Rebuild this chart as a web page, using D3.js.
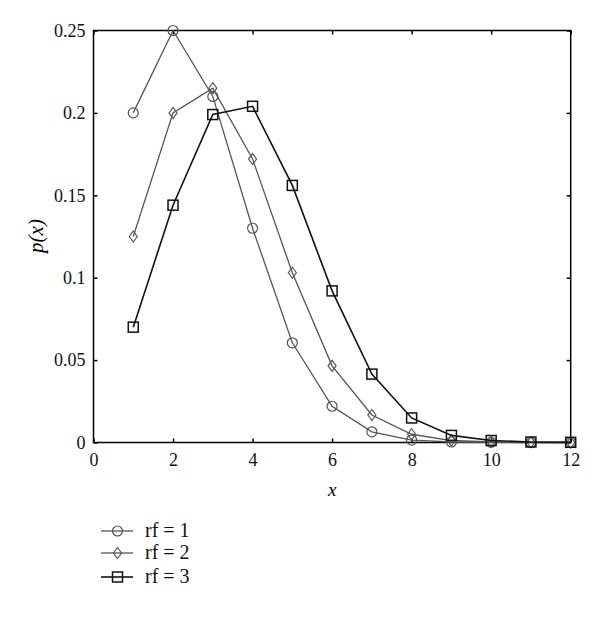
<!DOCTYPE html>
<html><head><meta charset="utf-8">
<script src="https://cdn.jsdelivr.net/npm/d3@7"></script>
<style>body{margin:0;background:#fff}</style>
</head><body>
<svg id="c" width="600" height="619"></svg>
<script>
const xs = [1,2,3,4,5,6,7,8,9,10,11,12];
const rf1 = [0.2,0.25,0.21,0.13,0.0605,0.022,0.0065,0.0015,0.0003,0.0001,0,0];
const rf2 = [0.125,0.2,0.215,0.172,0.103,0.0465,0.0167,0.005,0.0012,0.0003,0.0001,0];
const rf3 = [0.07,0.144,0.199,0.204,0.156,0.092,0.0415,0.0149,0.0043,0.0012,0.0003,0.0001];
const seriesNames = ["rf = 1","rf = 2","rf = 3"];
const xTicks = [0,2,4,6,8,10,12];
const yTicks = [0,0.05,0.1,0.15,0.2,0.25];
const yTickLabels = ["0","0.05","0.1","0.15","0.2","0.25"];

(function(){
const series = [
  {name: seriesNames[0], values: rf1, marker: "circle", color: "#555"},
  {name: seriesNames[1], values: rf2, marker: "diamond", color: "#555"},
  {name: seriesNames[2], values: rf3, marker: "square", color: "#111"}
];

const svg = d3.select("#c");
const font = "'Liberation Serif','Times New Roman',serif";
const L = 93.5, R = 570.7, T = 30.5, B = 442.5;
const x = d3.scaleLinear().domain([0,12]).range([L,R]);
const y = d3.scaleLinear().domain([0,0.25]).range([B,T]);

svg.append("rect").attr("x",L).attr("y",T).attr("width",R-L).attr("height",B-T)
  .attr("fill","none").attr("stroke","#000").attr("stroke-width",1.5);

const tl = 4;
const gB = svg.append("g").attr("transform",`translate(0,${B})`)
  .call(d3.axisBottom(x).tickValues(xTicks).tickSizeInner(-tl).tickSizeOuter(0).tickPadding(11));
const gT = svg.append("g").attr("transform",`translate(0,${T})`)
  .call(d3.axisTop(x).tickValues(xTicks).tickSizeInner(-tl).tickSizeOuter(0).tickFormat(""));
const gL = svg.append("g").attr("transform",`translate(${L},0)`)
  .call(d3.axisLeft(y).tickValues(yTicks).tickSizeInner(-tl).tickSizeOuter(0).tickPadding(8)
    .tickFormat((d,i)=>yTickLabels[i]));
const gR = svg.append("g").attr("transform",`translate(${R},0)`)
  .call(d3.axisRight(y).tickValues(yTicks).tickSizeInner(-tl).tickSizeOuter(0).tickFormat(""));
[gB,gT,gL,gR].forEach(g=>{
  g.select(".domain").remove();
  g.selectAll("line").attr("stroke","#000").attr("stroke-width",1.5);
  g.selectAll("text").attr("font-family",font).attr("font-size",18).attr("fill","#111");
});

svg.append("text").attr("x",(L+R)/2).attr("y",496).attr("text-anchor","middle")
  .attr("font-family",font).attr("font-size",19).attr("font-style","italic").text("x");
svg.append("text").attr("transform","translate(43,236) rotate(-90)").attr("text-anchor","middle")
  .attr("font-family",font).attr("font-size",21).attr("font-style","italic").text("p(x)");

function drawMarker(g, type, cx, cy, color){
  if(type==="circle"){
    g.append("circle").attr("cx",cx).attr("cy",cy).attr("r",5)
      .attr("fill","none").attr("stroke",color).attr("stroke-width",1.2);
  } else if(type==="diamond"){
    g.append("path").attr("d",`M${cx},${cy-5.5}L${cx+4},${cy}L${cx},${cy+5.5}L${cx-4},${cy}Z`)
      .attr("fill","none").attr("stroke",color).attr("stroke-width",1.2);
  } else {
    g.append("rect").attr("x",cx-5).attr("y",cy-5).attr("width",10).attr("height",10)
      .attr("fill","none").attr("stroke",color).attr("stroke-width",1.5);
  }
}

const line = d3.line().x((d,i)=>x(xs[i])).y(d=>y(d));
series.forEach(s=>{
  const g = svg.append("g");
  g.append("path").attr("d",line(s.values)).attr("fill","none")
    .attr("stroke",s.color).attr("stroke-width",s.marker==="square"?1.6:1.3);
  s.values.forEach((v,i)=>drawMarker(g,s.marker,x(xs[i]),y(v),s.color));
});

const legY = [531,553,577];
series.forEach((s,i)=>{
  const g = svg.append("g");
  g.append("line").attr("x1",101).attr("x2",133).attr("y1",legY[i]).attr("y2",legY[i])
    .attr("stroke",s.color).attr("stroke-width",s.marker==="square"?1.6:1.3);
  drawMarker(g,s.marker,117.5,legY[i],s.color);
  g.append("text").attr("x",145).attr("y",legY[i]+6).attr("font-family",font)
    .attr("font-size",20).attr("fill","#111").text(s.name);
});
})();
</script>
</body></html>
